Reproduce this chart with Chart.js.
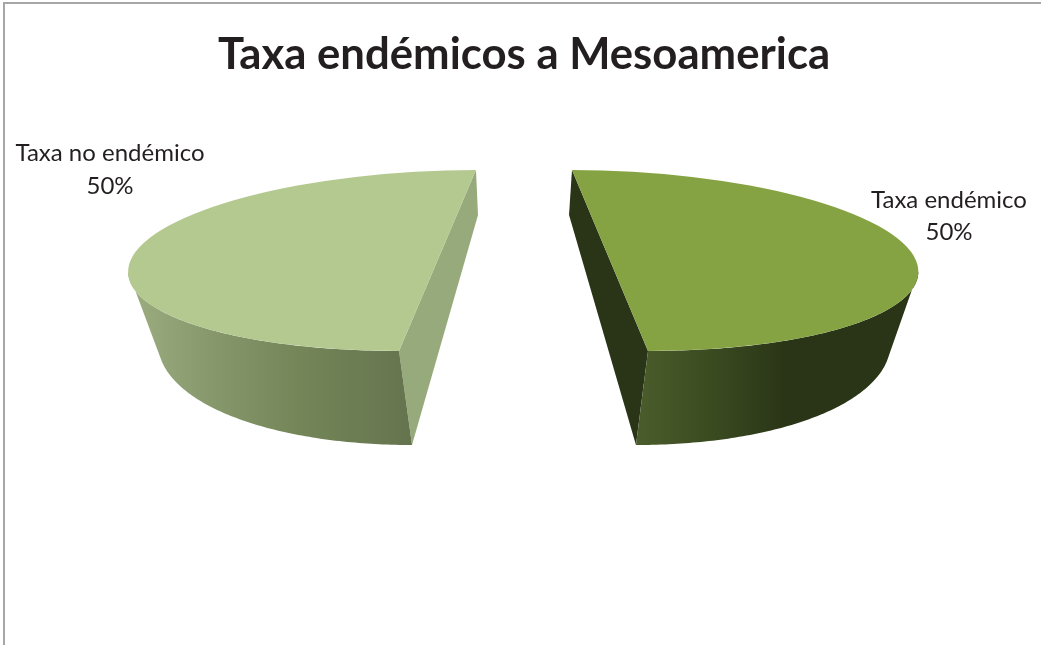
<!DOCTYPE html>
<html lang="es">
<head>
<meta charset="utf-8">
<title>Taxa endémicos a Mesoamerica</title>
<script src="https://cdn.jsdelivr.net/npm/chart.js@4"></script>
<style>
  html, body { margin: 0; padding: 0; background: #fff; overflow: hidden; }
  canvas { display: block; }
</style>
</head>
<body>
<canvas id="chart" width="1041" height="645"></canvas>
<script>
const chartTitle = 'Taxa endémicos a Mesoamerica';
const categories = ['Taxa endémico', 'Taxa no endémico'];
const values = [50, 50];
const capColors = ['#86a344', '#b3c98f'];

// Each wedge is a tilted disc: a top face, a lower rim and the flat cut side.
const deg = Math.PI / 180;
const solids = [
  {
    top: { x: 610, y: 260.5, a: 306, b: 90.5, k: 0.42 },
    base: { x: 602.5, y: 330, a: 286, b: 115, k: 0.291 },
    rimTopFrom: 7 * deg, rimBaseFrom: 15 * deg, rimTo: 90 * deg,
    cutColor: '#2a3517',
    rimStops: [[640, '#4a5c2b'], [715, '#3a4a20'], [785, '#2a3517'], [920, '#2a3517']],
    label: { x: 949, y: 200, dy: 32 }
  },
  {
    top: { x: 437.5, y: 260.5, a: 307, b: 90.5, k: -0.425 },
    base: { x: 445, y: 330, a: 285, b: 115, k: -0.287 },
    rimTopFrom: 173 * deg, rimBaseFrom: 165 * deg, rimTo: 90 * deg,
    cutColor: '#97aa7b',
    rimStops: [[130, '#9cae80'], [220, '#84966a'], [300, '#748558'], [412, '#65744e']],
    label: { x: 110, y: 153, dy: 33 }
  }
];

// Position on a projected ellipse for a given wedge angle.
function project(e, angle) {
  return {
    x: e.x + e.a * Math.cos(angle) + e.k * e.b * Math.sin(angle),
    y: e.y + e.b * Math.sin(angle)
  };
}

function traceEllipse(ctx, e, from, to) {
  const steps = 90;
  for (let i = 0; i <= steps; i++) {
    const p = project(e, from + (to - from) * i / steps);
    ctx.lineTo(p.x, p.y);
  }
}

const piePerspective = {
  id: 'piePerspective',
  beforeDraw(chart) {
    const { ctx } = chart;
    ctx.save();
    ctx.fillStyle = '#a6a6a6';
    ctx.fillRect(3, 2, 1038, 2);
    ctx.fillRect(3, 2, 2, 643);
    ctx.restore();
  },
  beforeDatasetDraw(chart, args) {
    const { ctx } = chart;
    const meta = chart.getDatasetMeta(args.index);
    meta.data.forEach((arc, i) => {
      const s = solids[i];
      const props = arc.getProps(['x', 'y', 'outerRadius', 'startAngle', 'endAngle'], true);

      // Flat cut side, running between the two ends of the wedge.
      ctx.save();
      ctx.beginPath();
      [[s.top, props.startAngle], [s.base, props.startAngle], [s.base, props.endAngle], [s.top, props.endAngle]]
        .forEach(([e, a]) => { const p = project(e, a); ctx.lineTo(p.x, p.y); });
      ctx.closePath();
      ctx.fillStyle = s.cutColor;
      ctx.fill();

      // Curved rim below the top face.
      const stops = s.rimStops;
      const x0 = stops[0][0], x1 = stops[stops.length - 1][0];
      const grad = ctx.createLinearGradient(x0, 0, x1, 0);
      stops.forEach(([x, c]) => grad.addColorStop((x - x0) / (x1 - x0), c));
      ctx.beginPath();
      traceEllipse(ctx, s.top, s.rimTopFrom, s.rimTo);
      traceEllipse(ctx, s.base, s.rimTo, s.rimBaseFrom);
      ctx.closePath();
      ctx.fillStyle = grad;
      ctx.fill();
      ctx.restore();

      // Top face: the library's own arc, mapped onto the projected ellipse.
      const R = props.outerRadius, t = s.top;
      const sx = t.a / R, sy = t.b / R, shear = t.k * t.b / R;
      ctx.save();
      ctx.transform(sx, 0, shear, sy,
        t.x - sx * props.x - shear * props.y,
        t.y - sy * props.y);
      arc.draw(ctx);
      ctx.restore();
    });
    return false;
  },
  afterDraw(chart) {
    const { ctx } = chart;
    const total = values.reduce((sum, v) => sum + v, 0);
    ctx.save();
    ctx.fillStyle = '#231f20';
    ctx.font = '24px Lato';
    ctx.textAlign = 'center';
    ctx.textBaseline = 'middle';
    categories.forEach((name, i) => {
      const l = solids[i].label;
      ctx.fillText(name, l.x, l.y);
      ctx.fillText(Math.round(values[i] / total * 100) + '%', l.x, l.y + l.dy);
    });
    ctx.restore();
  }
};

new Chart(document.getElementById('chart'), {
  type: 'pie',
  data: {
    labels: categories,
    datasets: [{ data: values, backgroundColor: capColors, borderWidth: 0 }]
  },
  options: {
    responsive: false,
    animation: false,
    layout: { padding: { left: 7 } },
    plugins: {
      legend: { display: false },
      tooltip: { enabled: false },
      title: {
        display: true,
        text: chartTitle,
        color: '#231f20',
        font: { family: 'Lato', size: 43.7, weight: 'bold' },
        padding: { top: 29, bottom: 10 }
      }
    }
  },
  plugins: [piePerspective]
});
</script>
</body>
</html>
